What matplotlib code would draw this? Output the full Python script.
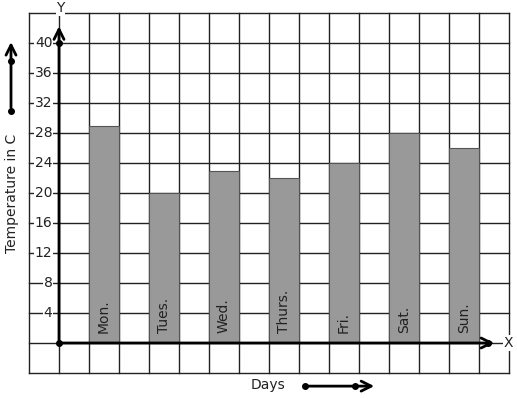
import matplotlib.pyplot as plt
import numpy as np

# --- Datos ---
days = ['Mon.', 'Tues.', 'Wed.', 'Thurs.', 'Fri.', 'Sat.', 'Sun.']
temps = [29, 20, 23, 22, 24, 28, 26]
yticks = [4, 8, 12, 16, 20, 24, 28, 32, 36, 40]

# x en unidades de celda, y en grados
fig = plt.figure(figsize=(5.17, 3.99), dpi=100)
ax = fig.add_axes([0, 0, 1, 1])
ax.set_xlim(-59 / 30, (517 - 59) / 30)
ax.set_ylim(-56 / 7.5, 343 / 7.5)
ax.axis('off')

# cuadricula
for gx in range(-1, 16):
    ax.plot([gx, gx], [-4, 44], color='#222222', lw=1, zorder=1)
for gy in range(-4, 45, 4):
    ax.plot([-1, 15], [gy, gy], color='#222222', lw=1, zorder=1)

# barras
xpos = np.arange(len(days)) * 2 + 1.5
ax.bar(xpos, temps, width=1, color='#999999', edgecolor='#555555', lw=0.8, zorder=2)
for x, d in zip(xpos, days):
    ax.text(x, 1.3, d, rotation=90, ha='center', va='bottom', fontsize=10, color='#222222', zorder=3)

# ejes
ax.annotate('', xy=(0, 42.6), xytext=(0, 0),
            arrowprops=dict(arrowstyle='->', lw=2.0, color='black', mutation_scale=18), zorder=4)
ax.annotate('', xy=(14.6, 0), xytext=(0, 0),
            arrowprops=dict(arrowstyle='->', lw=2.0, color='black', mutation_scale=18), zorder=4)
ax.plot([0, 0, 14.3], [40, 0, 0], 'o', color='black', ms=4, zorder=5)
ax.text(0.05, 44.6, 'Y', ha='center', va='center', fontsize=10, color='#222222',
        bbox=dict(facecolor='white', edgecolor='none', pad=0.5), zorder=5)
ax.text(14.97, 0, 'X', ha='center', va='center', fontsize=10, color='#222222',
        bbox=dict(facecolor='white', edgecolor='none', pad=0.5), zorder=5)

for t in yticks:
    ax.text(-0.22, t, str(t), ha='right', va='center', fontsize=10, color='#222222',
            bbox=dict(facecolor='white', edgecolor='none', pad=0.3), zorder=3)

# etiquetas
ax.text(-1.55, 20, 'Temperature in C', rotation=90, ha='center', va='center', fontsize=10, color='#222222')
ax.annotate('', xy=(-1.6, 40.5), xytext=(-1.6, 31.0),
            arrowprops=dict(arrowstyle='->', lw=2.0, color='black', mutation_scale=18))
ax.plot([-1.6, -1.6], [37.6, 31.0], 'o', color='black', ms=4)

ax.text(6.97, -5.6, 'Days', ha='center', va='center', fontsize=10, color='#222222')
ax.annotate('', xy=(10.6, -5.75), xytext=(8.2, -5.75),
            arrowprops=dict(arrowstyle='->', lw=2.0, color='black', mutation_scale=18))
ax.plot([8.2, 9.87], [-5.75, -5.75], 'o', color='black', ms=4)

plt.savefig('out.png', dpi=100)
